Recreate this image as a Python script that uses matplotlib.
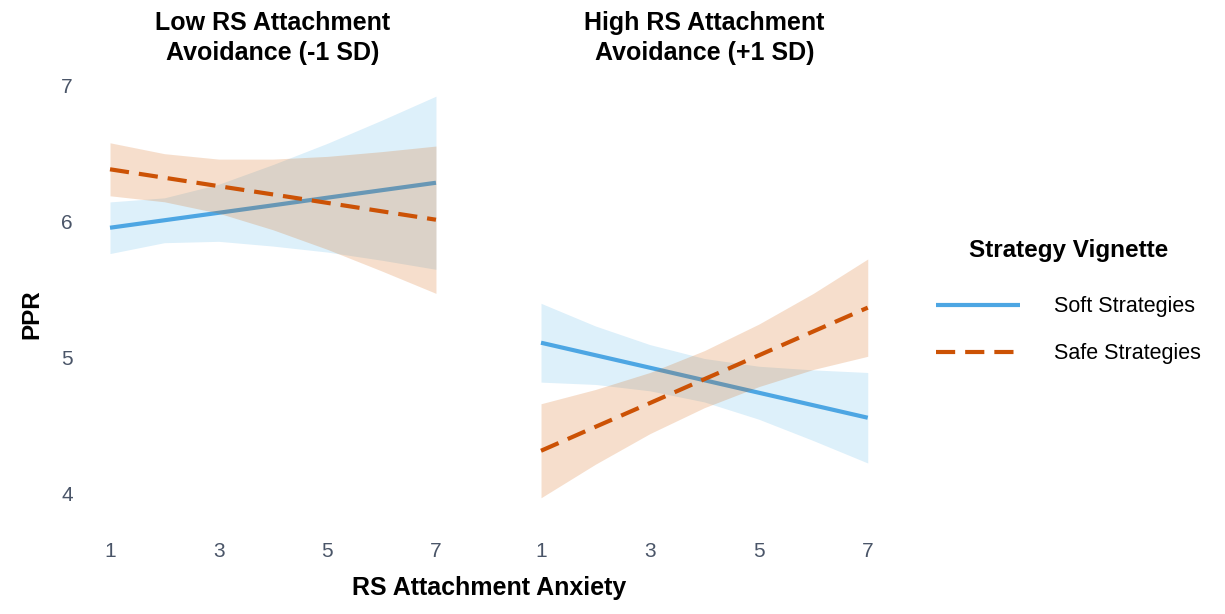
import numpy as np
import matplotlib.pyplot as plt

plt.rcParams["font.family"] = ["Liberation Sans", "DejaVu Sans"]

# ---------------------------------------------------------------------------
# Simple slopes of PPR on RS attachment anxiety, by avoidance level
# ---------------------------------------------------------------------------
anxiety = [1, 2, 3, 4, 5, 6, 7]
panel_titles = ["Low RS Attachment\nAvoidance (-1 SD)",
                "High RS Attachment\nAvoidance (+1 SD)"]
series_names = ["Soft Strategies", "Safe Strategies"]

# low avoidance (-1 SD)
low_soft_fit = [5.955, 6.010, 6.065, 6.120, 6.176, 6.231, 6.286]
low_soft_hi = [6.145, 6.175, 6.275, 6.420, 6.576, 6.746, 6.923]
low_soft_lo = [5.765, 5.845, 5.855, 5.820, 5.776, 5.716, 5.649]
low_safe_fit = [6.385, 6.323, 6.261, 6.200, 6.138, 6.076, 6.014]
low_safe_hi = [6.580, 6.500, 6.460, 6.460, 6.480, 6.515, 6.556]
low_safe_lo = [6.190, 6.146, 6.062, 5.940, 5.796, 5.637, 5.472]

# high avoidance (+1 SD)
high_soft_fit = [5.109, 5.017, 4.925, 4.833, 4.741, 4.649, 4.557]
high_soft_hi = [5.399, 5.232, 5.095, 4.993, 4.936, 4.909, 4.890]
high_soft_lo = [4.819, 4.802, 4.755, 4.673, 4.546, 4.389, 4.224]
high_safe_fit = [4.314, 4.490, 4.665, 4.841, 5.016, 5.192, 5.367]
high_safe_hi = [4.660, 4.765, 4.890, 5.051, 5.246, 5.472, 5.725]
high_safe_lo = [3.968, 4.215, 4.440, 4.631, 4.786, 4.912, 5.009]

panels = [
    [(low_soft_fit, low_soft_lo, low_soft_hi), (low_safe_fit, low_safe_lo, low_safe_hi)],
    [(high_soft_fit, high_soft_lo, high_soft_hi), (high_safe_fit, high_safe_lo, high_safe_hi)],
]

line_colors = ["#4DA6E3", "#CC5205"]
band_colors = ["#56B4E9", "#D55E00"]
tick_color = "#4A5568"

fig = plt.figure(figsize=(12.25, 6.14), dpi=100)
ax_boxes = [[0.0765, 0.1565, 0.2927, 0.7194],
            [0.4283, 0.1565, 0.2934, 0.7194]]

handles = []
for p, box in enumerate(ax_boxes):
    ax = fig.add_axes(box)
    z = 1
    for s, (fit, lo, hi) in enumerate(panels[p]):
        ax.fill_between(anxiety, lo, hi, color=band_colors[s], alpha=0.2,
                        linewidth=0, zorder=z)
        ln, = ax.plot(anxiety, fit, color=line_colors[s], linewidth=3.0,
                      zorder=z + 1, solid_capstyle="butt", label=series_names[s])
        if s == 1:
            ln.set_dashes((4.6, 2.4))
            ln.set_dash_capstyle("butt")
        if p == 0:
            handles.append(ln)
        z += 2

    ax.set_xlim(0.7, 7.3)
    ax.set_ylim(3.82, 7.07)
    ax.set_xticks([1, 3, 5, 7])
    ax.set_yticks([4, 5, 6, 7])
    if p == 1:
        ax.set_yticklabels([])
    for side in ax.spines.values():
        side.set_visible(False)
    ax.tick_params(length=0, colors=tick_color, labelsize=15)
    ax.tick_params(axis="x", pad=17)
    ax.tick_params(axis="y", pad=15)
    ax.set_title(panel_titles[p], fontsize=18, fontweight="bold", pad=12,
                 linespacing=1.3)

fig.text(0.399, 0.042, "RS Attachment Anxiety", ha="center", va="center",
         fontsize=18, fontweight="bold")
fig.text(0.026, 0.488, "PPR", ha="center", va="center", rotation=90,
         fontsize=17.5, fontweight="bold")

leg = fig.legend(handles=handles, loc="center left",
                 bbox_to_anchor=(0.755, 0.509), frameon=False, borderpad=0,
                 fontsize=15.5, title="Strategy Vignette",
                 title_fontproperties={"weight": "bold", "size": 17.5},
                 handlelength=3.9, handletextpad=1.6, labelspacing=1.2)
leg._legend_box.sep = 25

fig.savefig("out.png", dpi=100)
